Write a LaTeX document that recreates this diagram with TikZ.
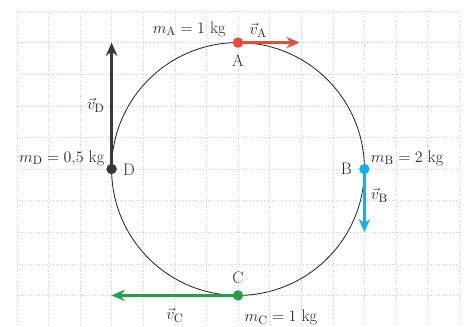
\documentclass[tikz,border=0pt]{standalone}
\usetikzlibrary{arrows.meta}
\definecolor{colA}{RGB}{234,74,58}
\definecolor{colB}{RGB}{22,176,226}
\definecolor{colC}{RGB}{38,158,74}
\definecolor{colD}{RGB}{55,55,55}
\definecolor{gridc}{RGB}{200,206,216}
\definecolor{txtc}{RGB}{40,40,40}
\begin{document}
\begin{tikzpicture}[
  txt/.style={text=txtc, font=\fontsize{15}{17}\selectfont, inner sep=0pt},
  vecarrow/.style={line width=2pt, -{Stealth[length=4.2mm,width=3.6mm,inset=1.4mm]}},
  dot/.style={circle, inner sep=0pt, minimum size=3.3mm}
]
\useasboundingbox (-7.532,-5.0) rectangle (7.215,5.348);
% grid
\foreach \x in {-7,...,7} \draw[gridc, dotted, line width=0.5pt] (\x,-5.1) -- (\x,5);
\foreach \y in {-4,...,5} \draw[gridc, dotted, line width=0.5pt] (-7,\y) -- (7,\y);
% circle
\draw[line width=0.75pt, black!85] (0,0) circle (4);
% points and arrow ends
\coordinate (A) at (0,4);
\coordinate (B) at (4,0);
\coordinate (C) at (0,-4);
\coordinate (D) at (-4,0);
\coordinate (Ae) at (1.95,4);
\coordinate (Be) at (4,-2);
\coordinate (Ce) at (-4,-4);
\coordinate (De) at (-4,4);
\draw[vecarrow, colA] (A) -- (Ae);
\draw[vecarrow, colB] (B) -- (Be);
\draw[vecarrow, colC] (C) -- (Ce);
\draw[vecarrow, colD] (D) -- (De);
\node[dot, fill=colA] (Adot) at (A) {};
\node[dot, fill=colB] (Bdot) at (B) {};
\node[dot, fill=colC] (Cdot) at (C) {};
\node[dot, fill=colD] (Ddot) at (D) {};
% labels
\node[txt] (lA) at (0,3.42) {A};
\node[txt] (lB) at (3.43,0) {B};
\node[txt] (lC) at (0,-3.45) {C};
\node[txt] (lD) at (-3.45,-0.02) {D};
\node[txt, anchor=base east] (mA) at (-0.38,4.3) {$m_{\mathrm{A}} = 1$ kg};
\node[txt, anchor=base west] (mB) at (4.2,0.22) {$m_{\mathrm{B}} = 2$ kg};
\node[txt, anchor=base west] (mC) at (0.2,-4.84) {$m_{\mathrm{C}} = 1$ kg};
\node[txt, anchor=base east] (mD) at (-4.22,0.22) {$m_{\mathrm{D}} = 0{,}5$ kg};
\node[txt, anchor=base] (vA) at (0.64,4.25) {$\vec{v}_{\mathrm{A}}$};
\node[txt, anchor=base west] (vB) at (4.2,-0.98) {$\vec{v}_{\mathrm{B}}$};
\node[txt, anchor=base] (vC) at (-2.0,-4.76) {$\vec{v}_{\mathrm{C}}$};
\node[txt, anchor=base east] (vD) at (-4.22,1.87) {$\vec{v}_{\mathrm{D}}$};
\end{tikzpicture}
\end{document}
